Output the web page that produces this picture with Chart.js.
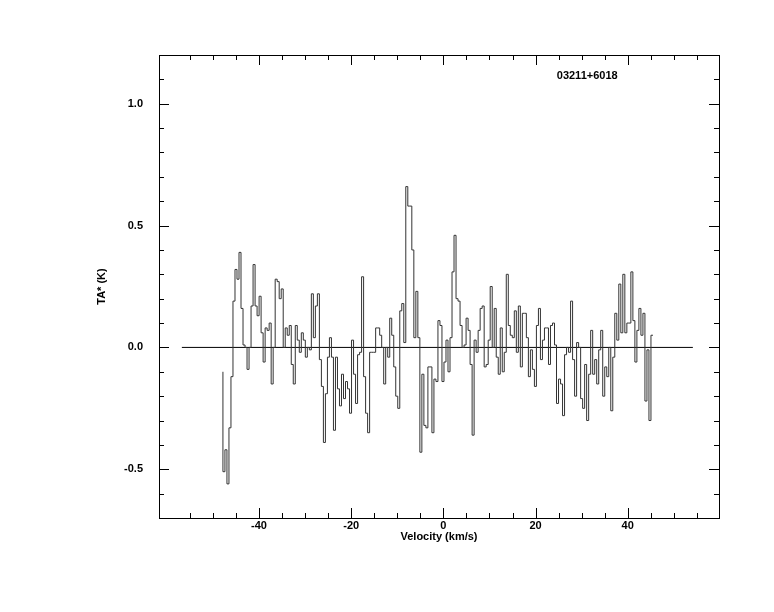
<!DOCTYPE html>
<html lang="en">
<head>
    <meta charset="UTF-8">
    <title>03211+6018</title>
    <script src="https://cdn.jsdelivr.net/npm/chart.js"></script>
    <style>
        body { margin: 0; background: #fff; }
        canvas { display: block; }
    </style>
</head>
<body>
    <canvas id="specChart" width="774" height="612"></canvas>
    <script>
        // source and spectral axis (channel grid of the spectrum)
        const sourceName = '03211+6018';
        const channelStart = -47.83;   // km/s, left edge of first channel
        const channelWidth = 0.436;    // km/s
        const startLevel = -0.10;      // where the histogram begins

        // antenna temperature per channel (K)
        const taValues = [
            -0.51, -0.42, -0.56, -0.33, -0.12, 0.19, 0.32, 0.28, 0.39, 0.16,
            0.01, 0.00, -0.09, 0.00, 0.17, 0.34, 0.17, 0.13, 0.21, 0.06,
            -0.06, 0.08, 0.07, 0.10, -0.15, 0.00, 0.28, 0.27, 0.20, 0.24,
            0.00, 0.08, 0.05, 0.09, -0.07, -0.15, 0.09, 0.03, -0.02, 0.06,
            0.03, -0.04, 0.00, -0.01, 0.22, 0.04, 0.17, 0.22, -0.05, -0.16,
            -0.39, -0.19, -0.04, 0.04, -0.04, -0.34, -0.04, -0.17, -0.24, -0.11,
            -0.21, -0.14, -0.17, -0.27, 0.03, -0.11, -0.23, -0.03, -0.02, 0.29,
            -0.12, -0.27, -0.35, -0.02, -0.02, -0.02, 0.08, 0.08, 0.05, 0.00,
            -0.15, 0.00, -0.04, 0.12, 0.05, -0.08, -0.20, -0.25, 0.15, 0.18,
            0.02, 0.66, 0.58, 0.58, 0.40, 0.04, 0.23, 0.04, -0.43, -0.11,
            -0.32, -0.33, -0.08, -0.08, -0.35, -0.13, -0.14, 0.11, 0.09, -0.14,
            -0.06, 0.03, -0.10, 0.04, 0.31, 0.46, 0.20, 0.19, 0.09, 0.00,
            0.01, 0.12, 0.07, -0.07, -0.36, 0.03, -0.02, 0.07, 0.16, 0.17,
            -0.08, -0.07, 0.03, 0.25, 0.00, 0.16, -0.04, -0.11, 0.08, -0.10,
            -0.02, 0.30, 0.09, 0.05, 0.04, 0.15, -0.02, 0.17, -0.08, 0.14,
            0.14, 0.04, -0.12, -0.01, -0.09, -0.16, 0.09, 0.16, -0.05, 0.03,
            0.08, 0.08, -0.07, 0.09, 0.10, 0.01, -0.23, -0.13, -0.15, -0.28,
            -0.03, 0.00, -0.02, 0.19, -0.05, -0.20, 0.02, 0.00, -0.21, -0.25,
            -0.07, -0.30, -0.11, 0.07, -0.11, -0.05, -0.15, -0.01, 0.07, -0.20,
            -0.08, -0.12, 0.00, -0.26, -0.04, 0.14, 0.03, 0.26, 0.06, 0.30,
            0.06, 0.10, 0.10, 0.31, 0.11, -0.06, 0.07, 0.16, 0.05, 0.14,
            -0.22, -0.01, -0.30, 0.05
        ];

        // zero baseline extent
        const baselineX = [-56.74, 54.13];

        // axis ranges and ticks
        const xRange = [-61.7, 59.8];
        const yRange = [-0.7, 1.2];
        const xMajorTicks = [-40, -20, 0, 20, 40];
        const xMinorTicks = [-55, -50, -45, -40, -35, -30, -25, -20, -15, -10, -5, 0,
                             5, 10, 15, 20, 25, 30, 35, 40, 45, 50, 55];
        const yMajorTicks = [-0.5, 0.0, 0.5, 1.0];
        const yMinorTicks = [-0.6, -0.5, -0.4, -0.3, -0.2, -0.1, 0.0, 0.1, 0.2, 0.3, 0.4,
                             0.5, 0.6, 0.7, 0.8, 0.9, 1.0, 1.1];
        const sourceLabelAt = [24.6, 1.115];

        const labelFont = { family: '"Liberation Sans", Arial, sans-serif', size: 11, weight: 'bold' };

        // histogram points: start at left edge, then each channel's right edge
        const specPoints = [{ x: channelStart, y: startLevel }];
        taValues.forEach((t, i) => {
            specPoints.push({ x: channelStart + (i + 1) * channelWidth, y: t });
        });

        const frameTicks = {
            id: 'frameTicks',
            afterDraw(chart) {
                const { ctx, chartArea: a, scales: { x, y } } = chart;
                ctx.save();
                ctx.strokeStyle = '#000';
                ctx.lineWidth = 1;
                ctx.strokeRect(a.left + 0.5, a.top + 0.5, a.right - a.left, a.bottom - a.top);
                ctx.beginPath();
                xMinorTicks.forEach(v => {
                    const px = Math.round(x.getPixelForValue(v)) + 0.5;
                    const len = xMajorTicks.includes(v) ? 10 : 5;
                    ctx.moveTo(px, a.bottom); ctx.lineTo(px, a.bottom - len);
                    ctx.moveTo(px, a.top); ctx.lineTo(px, a.top + len);
                });
                yMinorTicks.forEach(v => {
                    const py = Math.round(y.getPixelForValue(v)) + 0.5;
                    const len = yMajorTicks.some(m => Math.abs(m - v) < 1e-6) ? 10 : 5;
                    ctx.moveTo(a.left, py); ctx.lineTo(a.left + len, py);
                    ctx.moveTo(a.right, py); ctx.lineTo(a.right - len, py);
                });
                ctx.stroke();

                ctx.fillStyle = '#000';
                ctx.font = 'bold 11px "Liberation Sans", Arial, sans-serif';
                ctx.textAlign = 'left';
                ctx.textBaseline = 'middle';
                ctx.fillText(sourceName, x.getPixelForValue(sourceLabelAt[0]), y.getPixelForValue(sourceLabelAt[1]));
                ctx.restore();
            }
        };

        Chart.defaults.color = '#000';

        const ctx = document.getElementById('specChart').getContext('2d');
        new Chart(ctx, {
            type: 'line',
            data: {
                datasets: [
                    {
                        data: specPoints,
                        stepped: 'after',
                        borderColor: '#333',
                        borderWidth: 1,
                        pointRadius: 0,
                        fill: false
                    },
                    {
                        data: baselineX.map(v => ({ x: v, y: 0 })),
                        borderColor: '#000',
                        borderWidth: 1,
                        pointRadius: 0,
                        fill: false
                    }
                ]
            },
            options: {
                responsive: false,
                animation: false,
                layout: { padding: { left: 0, top: 55, right: 55, bottom: 68 } },
                plugins: { legend: { display: false }, tooltip: { enabled: false } },
                scales: {
                    x: {
                        type: 'linear',
                        min: xRange[0],
                        max: xRange[1],
                        grid: { display: false, drawTicks: false },
                        border: { display: false },
                        afterBuildTicks: s => { s.ticks = xMajorTicks.map(v => ({ value: v })); },
                        afterFit: s => { s.height = 26; },
                        ticks: {
                            autoSkip: false,
                            maxRotation: 0,
                            padding: 1,
                            font: labelFont,
                            callback: v => String(v)
                        },
                        title: {
                            display: true,
                            text: 'Velocity (km/s)',
                            font: labelFont,
                            padding: { top: 0, bottom: 0 }
                        }
                    },
                    y: {
                        type: 'linear',
                        min: yRange[0],
                        max: yRange[1],
                        grid: { display: false, drawTicks: false },
                        border: { display: false },
                        afterBuildTicks: s => { s.ticks = yMajorTicks.map(v => ({ value: v })); },
                        afterFit: s => { s.width = 159; },
                        ticks: {
                            autoSkip: false,
                            padding: 16,
                            font: labelFont,
                            callback: v => Number(v).toFixed(1)
                        },
                        title: {
                            display: true,
                            text: 'TA* (K)',
                            font: labelFont,
                            padding: { top: 95, bottom: 0 }
                        }
                    }
                }
            },
            plugins: [frameTicks]
        });
    </script>
</body>
</html>
